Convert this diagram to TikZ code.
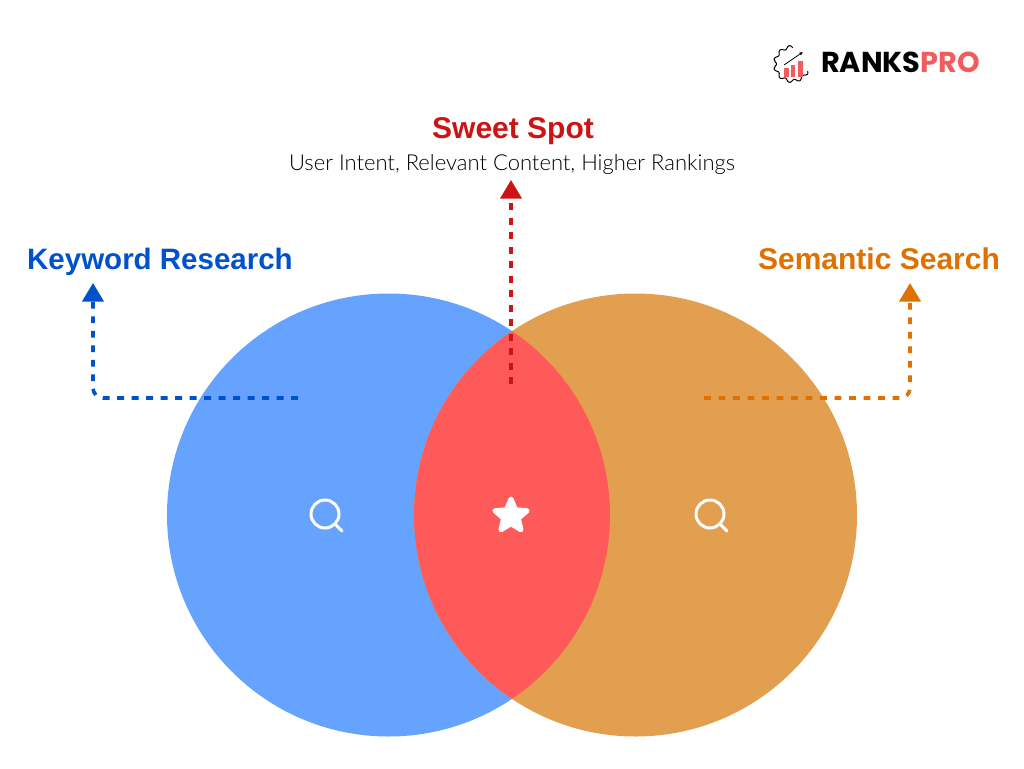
\documentclass[tikz,border=0pt]{standalone}
\usepackage{fontspec}
\usetikzlibrary{arrows.meta,shapes.geometric}
\setmainfont{Liberation Sans}
\newfontfamily\logofont{Poppins}
\newfontfamily\subfont{Lato Light}
\definecolor{cblue}{HTML}{66A3FF}
\definecolor{corange}{HTML}{E29F50}
\definecolor{clens}{HTML}{FF5A5A}
\definecolor{dblue}{HTML}{0052CC}
\definecolor{dorange}{HTML}{E07000}
\definecolor{dred}{HTML}{CC1414}
\definecolor{logored}{HTML}{F25C5C}
\tikzset{
  x=1pt,y=-1pt,
  title/.style={font=\bfseries\fontsize{30}{36}\selectfont,inner sep=0pt,anchor=base},
  conn/.style={line width=3.6pt,dash pattern=on 6.8pt off 7.7pt,rounded corners=10pt,
    -{Triangle[width=21pt,length=18.5pt,sep=2pt]}},
  lens/.style={line width=3pt,white},
}
\begin{document}
\begin{tikzpicture}
\useasboundingbox (0,0) rectangle (1024,768);
\fill[white] (0,0) rectangle (1024,768);
% circles
\fill[cblue] (388.5,515) circle[radius=221.5];
\fill[corange] (635.5,515) circle[radius=221.5];
\begin{scope}
  \clip (388.5,515) circle[radius=221.5];
  \fill[clens] (635.5,515) circle[radius=221.5];
\end{scope}
% texts
\node[title,text=dblue,font=\bfseries\fontsize{29.5}{36}\selectfont] (kw) at (160,269) {Keyword Research};
\node[title,text=dorange] (sem) at (879,269) {Semantic Search};
\node[title,text=dred] (sweet) at (513,138) {Sweet Spot};
\node[inner sep=0pt,anchor=base,font=\subfont\fontsize{22}{26}\selectfont,text=black] (sub) at (512,170) {User Intent, Relevant Content, Higher Rankings};
% connector ends
\coordinate (kwstart) at (298,398);
\coordinate (kwcorner) at (93,398);
\coordinate (kwend) at (93,281);
\coordinate (semstart) at (704,398);
\coordinate (semcorner) at (910,398);
\coordinate (semend) at (910,281);
\coordinate (swstart) at (511,384);
\coordinate (swend) at (511,178);
\draw[conn,dblue] (kwstart) -- (kwcorner) -- (kwend);
\draw[conn,dorange] (semstart) -- (semcorner) -- (semend);
\draw[conn,dred] (swstart) -- (swend);
% icons
\foreach \cx in {325,710}{
  \draw[lens] (\cx,514) circle[radius=14];
  \draw[lens,line cap=round] (\cx+10.5,524.5) -- (\cx+17,531);
}
\node[star,star points=5,star point ratio=2.2,minimum size=34pt,inner sep=0pt,fill=white,draw=white,line width=5pt,line join=round] (st) at (511,516) {};
% logo
\begin{scope}[shift={(792,64)}]
  \draw[line width=1pt,black,line join=round]
    plot[smooth,samples=110,domain=25:273,variable=\t] ({(17+1.5*cos(11*\t))*cos(\t)},{(17+1.5*cos(11*\t))*sin(\t)});
  \fill[logored] (-8,4) rectangle (-3.5,13);
  \fill[logored] (-1,1) rectangle (3,13);
  \fill[logored] (6,-3) rectangle (11,13);
  \draw[line width=0.8pt,-{Latex[length=3.5pt,width=3.5pt]}] (-8,1) -- (11,-12);
\end{scope}
\node[inner sep=0pt,anchor=west,font=\logofont\bfseries\fontsize{28.8}{32}\selectfont] (logo) at (821,62) {RANKS\textcolor{logored}{PRO}};
\end{tikzpicture}
\end{document}
